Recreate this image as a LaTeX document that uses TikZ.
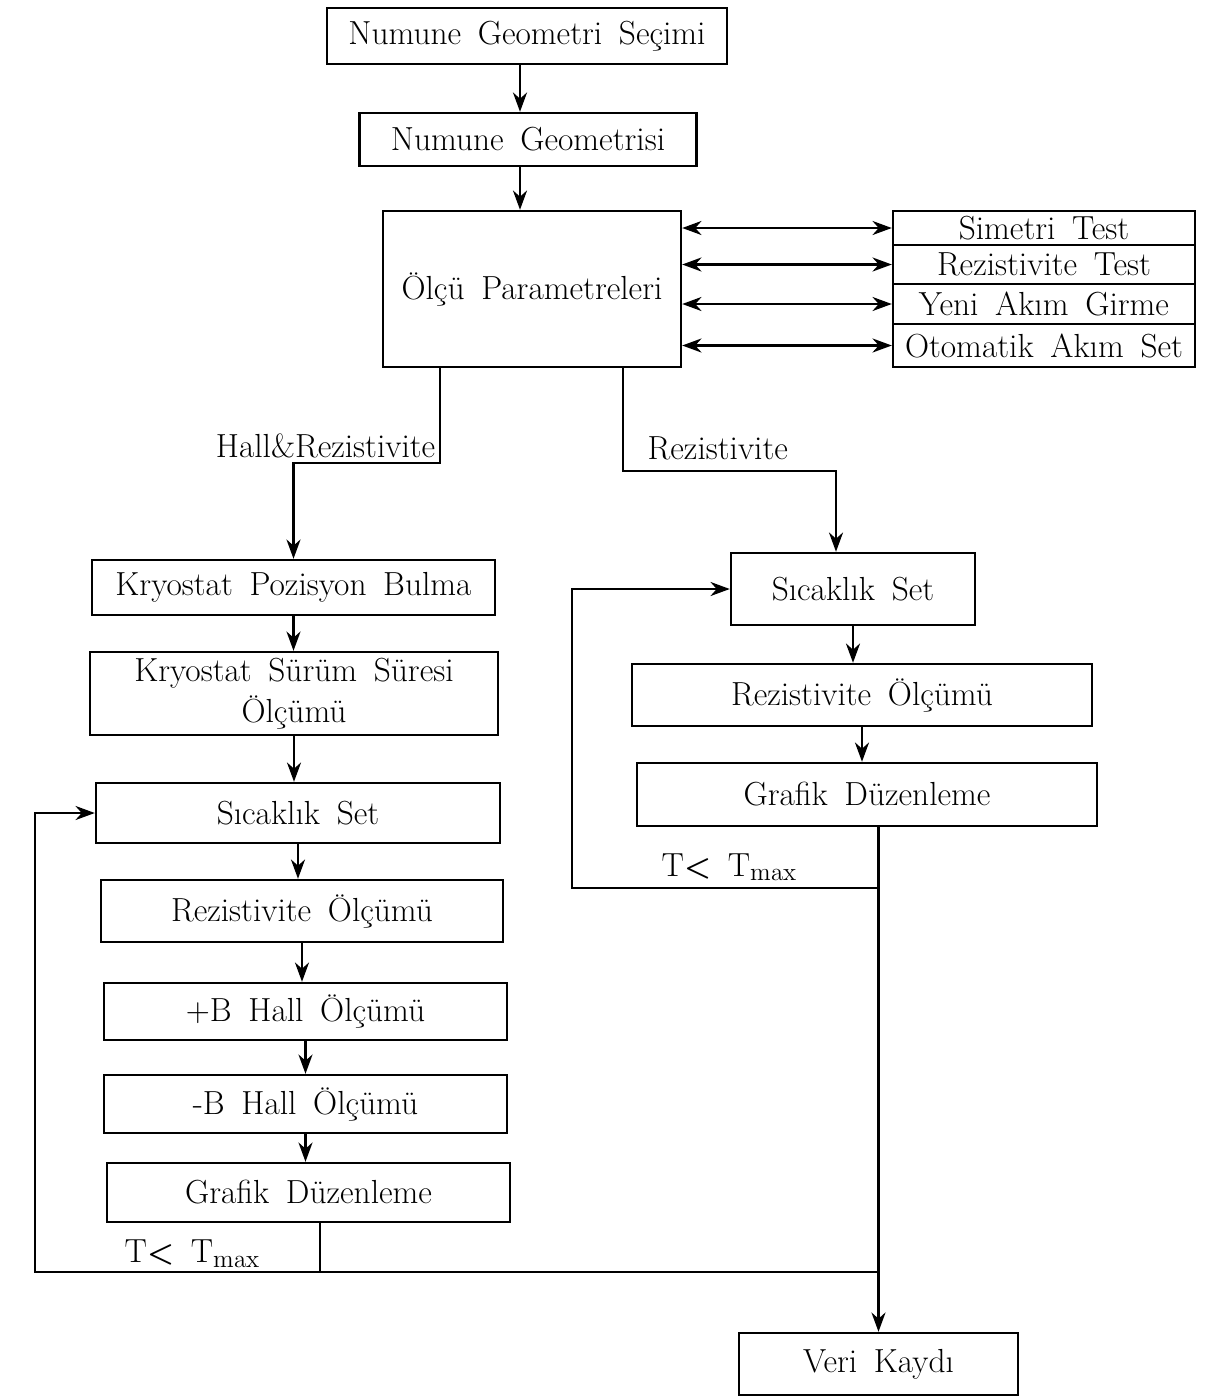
\documentclass[tikz,border=0pt]{standalone}
\usepackage{amsmath}
\usepackage{tikz}
\usetikzlibrary{shapes,arrows.meta}

\newcommand{\boxfont}{\fontsize{19}{23}\selectfont\spaceskip=0.5em plus 0.1em\relax}

\begin{document}
\begin{tikzpicture}[x=0.02cm, y=-0.02cm,
        box/.style={rectangle, draw=black, line width=1.4pt, align=center, inner sep=0pt, fill=white, font=\boxfont},
        arr/.style={line width=1.4pt, -{Stealth[length=11pt,width=8pt]}},
        darr/.style={line width=1.4pt, {Stealth[length=11pt,width=8pt]}-{Stealth[length=11pt,width=8pt]}},
        lbl/.style={inner sep=2pt, font=\boxfont}
    ]
        \useasboundingbox (0,0) rectangle (1217,1397);

        % Top boxes
        \node[box, minimum width=8cm, minimum height=1.12cm] (secim) at (527,36) {Numune Geometri Seçimi};
        \node[box, minimum width=6.74cm, minimum height=1.06cm] (geo) at (528,139.5) {Numune Geometrisi};
        \node[box, minimum width=5.96cm, minimum height=3.12cm] (olcu) at (532,289) {Ölçü Parametreleri};

        % Test boxes
        \node[box, minimum width=6.04cm, minimum height=0.68cm] (sim) at (1044,228) {Simetri Test};
        \node[box, minimum width=6.04cm, minimum height=0.78cm] (rtest) at (1044,264.5) {Rezistivite Test};
        \node[box, minimum width=6.04cm, minimum height=0.80cm] (yeni) at (1044,304) {Yeni Akım Girme};
        \node[box, minimum width=6.04cm, minimum height=0.86cm] (oto) at (1044,345.5) {Otomatik Akım Set};

        % Hall & Rezistivite column
        \node[box, minimum width=8.06cm, minimum height=1.1cm] (kpb) at (293.5,587.5) {Kryostat Pozisyon Bulma};
        \node[box, minimum width=8.16cm, minimum height=1.66cm] (kss) at (294,693.5) {Kryostat Sürüm Süresi\\Ölçümü};
        \node[box, minimum width=8.08cm, minimum height=1.2cm] (sset1) at (298,813) {Sıcaklık Set};
        \node[box, minimum width=8.04cm, minimum height=1.24cm] (rez1) at (302,911) {Rezistivite Ölçümü};
        \node[box, minimum width=8.06cm, minimum height=1.14cm] (bplus) at (305.5,1011.5) {+B Hall Ölçümü};
        \node[box, minimum width=8.06cm, minimum height=1.16cm] (bminus) at (305.5,1104) {-B Hall Ölçümü};
        \node[box, minimum width=8.06cm, minimum height=1.18cm] (graf1) at (308.5,1192.5) {Grafik Düzenleme};

        % Rezistivite column
        \node[box, minimum width=4.88cm, minimum height=1.44cm] (sset2) at (853,589) {Sıcaklık Set};
        \node[box, minimum width=9.2cm, minimum height=1.24cm] (rez2) at (862,695) {Rezistivite Ölçümü};
        \node[box, minimum width=9.2cm, minimum height=1.26cm] (graf2) at (867,794.5) {Grafik Düzenleme};
        \node[box, minimum width=5.58cm, minimum height=1.24cm] (veri) at (878.5,1364) {Veri Kaydı};

        % Loop corners
        \coordinate (lc) at (35,1272);
        \coordinate (rc) at (572,888);

        % Connections
        \draw[arr] ([xshift=-0.14cm]secim.south) -- ([xshift=-0.14cm]secim.south |- geo.north);
        \draw[arr] ([xshift=-0.16cm]geo.south) -- ([xshift=-0.16cm]geo.south |- olcu.north);
        \foreach \t in {sim, rtest, yeni, oto}
            \draw[darr] (olcu.east |- \t.west) -- (\t.west);

        \draw[arr] ([xshift=-1.84cm]olcu.south) -- ++(0,95) node[lbl, above left] {Hall\&Rezistivite} -| (kpb.north);
        \draw[arr] ([xshift=1.82cm]olcu.south) -- ++(0,103) node[lbl, above right, xshift=0.4cm, yshift=0.12cm] {Rezistivite}
            -| ([xshift=-0.34cm]sset2.north);

        \foreach \a/\b in {kpb/kss, kss/sset1, sset1/rez1, rez1/bplus, bplus/bminus, bminus/graf1, sset2/rez2, rez2/graf2}
            \draw[arr] (\a.south) -- (\a.south |- \b.north);

        % Loops back to Sicaklik Set
        \draw[line width=1.4pt] ([xshift=0.23cm]graf1.south) -- ([xshift=0.23cm]graf1.south |- lc);
        \draw[arr] (veri.north |- lc) -- (lc) node[lbl, above right, xshift=1.7cm] {T$\boldsymbol{<}$ T$_{\mathrm{max}}$} |- (sset1.west);
        \draw[arr] (veri.north |- rc) -- (rc) node[lbl, above right, xshift=1.7cm, yshift=0.05cm] {T$\boldsymbol{<}$ T$_{\mathrm{max}}$} |- (sset2.west);
        \draw[arr] (veri.north |- graf2.south) -- (veri.north);
    \end{tikzpicture}
\end{document}
